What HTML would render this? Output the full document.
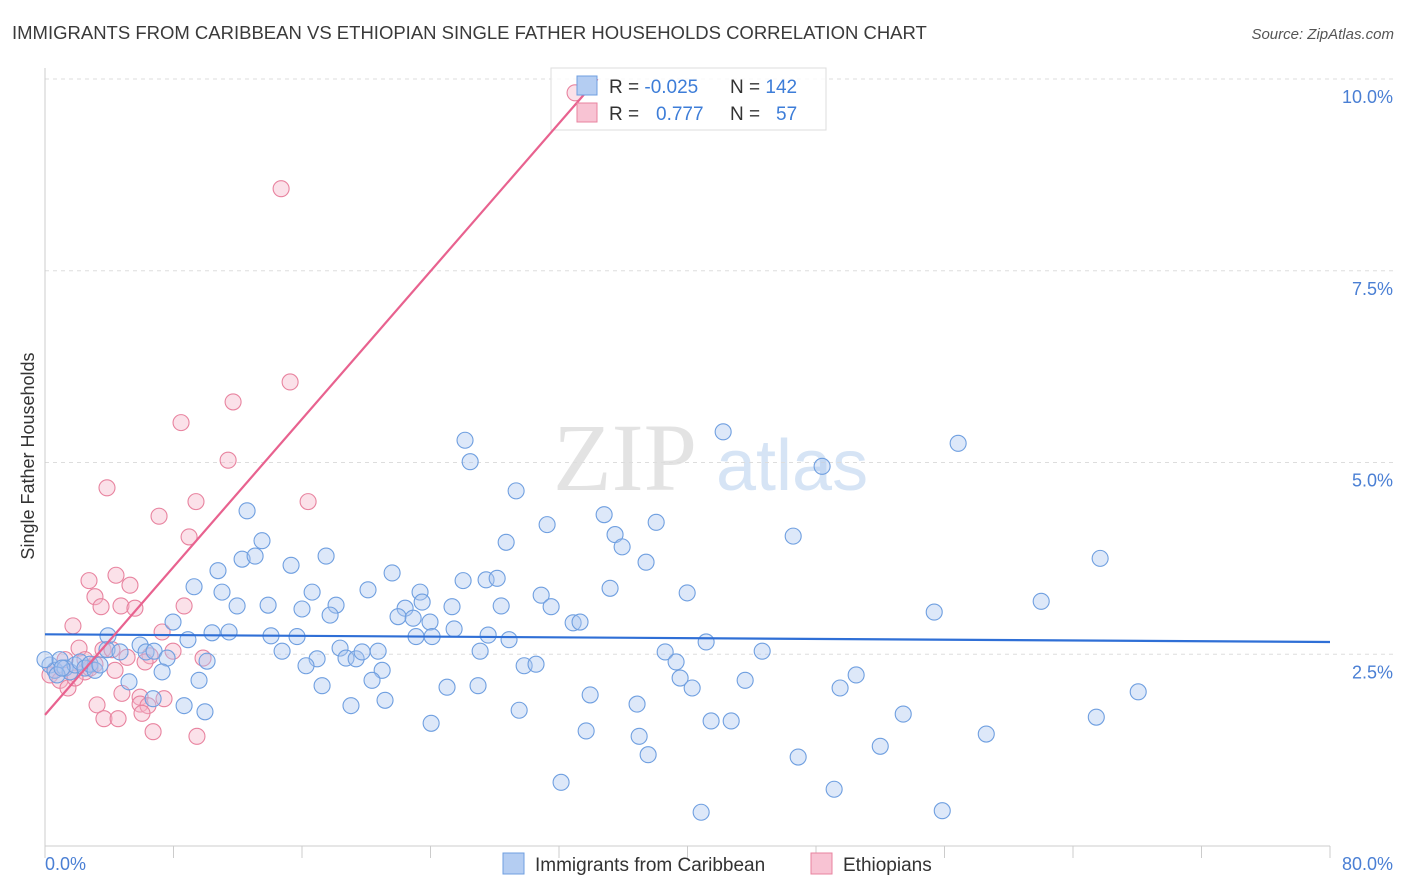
<!DOCTYPE html>
<html><head><meta charset="utf-8"><style>
body{margin:0;background:#fff;font-family:"Liberation Sans",sans-serif;}
svg{display:block}
</style></head><body>
<svg id="chart" width="1406" height="892">
<text x="12" y="39" font-size="18.5" fill="#3a3a3a">IMMIGRANTS FROM CARIBBEAN VS ETHIOPIAN SINGLE FATHER HOUSEHOLDS CORRELATION CHART</text>
<text x="1394" y="39" font-size="15" fill="#555" font-style="italic" text-anchor="end">Source: ZipAtlas.com</text>
<text transform="translate(34,456) rotate(-90)" font-size="18" fill="#333" text-anchor="middle">Single Father Households</text>
<g><text x="553" y="490" font-size="96" fill="#d8d8d8" font-family="Liberation Serif,serif" opacity="0.7">ZIP</text><text x="716" y="490" font-size="72" fill="#bcd3f0" opacity="0.6">atlas</text></g>
<g id="grid"></g><g id="axes"></g>
<g>
<rect x="551" y="68" width="275" height="62" fill="#fff" fill-opacity="0.85" stroke="#ddd"/>
</g>
<g id="pinkPts"></g><g id="bluePts"></g><g id="lines"></g>
<g>
<rect x="577" y="76" width="20" height="19" fill="#b4cdf2" stroke="#6f9fe0"/>
<rect x="577" y="103" width="20" height="19" fill="#f8c3d3" stroke="#e8839f"/>
<text x="609" y="93" font-size="19" fill="#333">R = <tspan fill="#3d7dd8">-0.025</tspan></text>
<text x="730" y="93" font-size="19" fill="#333">N = <tspan fill="#3d7dd8">142</tspan></text>
<text x="609" y="120" font-size="19" fill="#333">R = <tspan fill="#3d7dd8" x="656">0.777</tspan></text>
<text x="730" y="120" font-size="19" fill="#333">N = <tspan fill="#3d7dd8" x="776">57</tspan></text>
</g>
<g>
<rect x="503" y="853" width="21" height="21" fill="#b4cdf2" stroke="#6f9fe0"/>
<text x="535" y="871" font-size="19" fill="#333">Immigrants from Caribbean</text>
<rect x="811" y="853" width="21" height="21" fill="#f8c3d3" stroke="#e8839f"/>
<text x="843" y="871" font-size="19" fill="#333">Ethiopians</text>
</g>
</svg>
<script>
const xTickLabels=["0.0%","80.0%"];
const yTicks=[2.5,5,7.5,10];
const yTickLabels=["2.5%","5.0%","7.5%","10.0%"];
const blueX=[26.15,26.47,42.22,48.38,56.85,29.33,12.58,31.26,34.81,38.05,35.49,35.93,28.71,46.58,65.69,13.51,12.27,13.08,17.5,10.77,15.32,21.61,26.03,27.46,28.15,37.42,9.28,11.02,16.63,20.11,23.35,30.89,35.18,39.98,62.02,55.36,11.96,13.89,16.0,18.12,22.42,23.48,25.34,28.4,31.51,7.97,21.98,22.92,17.75,23.97,32.88,33.31,10.4,11.46,14.07,15.69,25.47,27.59,28.89,3.92,5.92,8.9,3.86,4.67,6.29,6.79,14.76,18.37,20.74,27.09,23.1,24.1,38.61,41.16,44.65,39.29,7.6,10.09,16.94,18.74,19.37,19.74,29.83,30.57,16.25,20.99,7.29,5.23,9.59,17.25,20.36,25.03,26.96,39.54,40.29,43.59,49.5,50.5,68.06,6.73,8.66,9.96,19.05,21.17,29.52,33.94,36.86,41.47,42.72,53.43,65.45,24.04,33.69,36.99,58.6,52.0,37.55,46.89,32.13,49.13,40.85,55.86,0.31,0.62,0.93,1.25,1.56,1.87,2.18,2.49,2.8,3.11,0.75,1.06,3.42,0.0];
const blueY=[5.29,5.01,5.4,4.95,5.25,4.63,4.37,4.19,4.32,4.22,4.06,3.9,3.96,4.04,3.75,3.98,3.74,3.78,3.78,3.59,3.66,3.56,3.46,3.47,3.49,3.7,3.38,3.31,3.31,3.34,3.31,3.27,3.36,3.3,3.19,3.05,3.13,3.14,3.09,3.14,3.1,3.18,3.12,3.13,3.12,2.92,2.99,2.97,3.01,2.92,2.91,2.92,2.78,2.79,2.74,2.73,2.83,2.75,2.69,2.74,2.62,2.69,2.56,2.53,2.53,2.54,2.54,2.58,2.54,2.54,2.73,2.73,2.53,2.66,2.54,2.4,2.45,2.41,2.44,2.45,2.44,2.53,2.35,2.37,2.35,2.29,2.27,2.14,2.16,2.09,2.16,2.07,2.09,2.19,2.06,2.16,2.06,2.23,2.01,1.92,1.83,1.75,1.83,1.9,1.77,1.97,1.85,1.63,1.63,1.72,1.68,1.6,1.5,1.43,1.46,1.3,1.19,1.16,0.83,0.74,0.44,0.46,2.36,2.29,2.43,2.32,2.27,2.36,2.4,2.32,2.37,2.29,2.23,2.32,2.36,2.43];
const pinkX=[33.0,14.7,15.26,11.71,8.47,11.4,3.86,9.4,16.38,7.1,8.97,4.42,2.74,5.29,3.11,4.73,5.6,3.49,8.66,1.74,7.29,2.12,3.61,5.11,4.17,6.54,7.97,9.84,6.23,1.25,1.56,0.62,0.31,2.49,3.11,4.36,0.93,1.43,4.79,5.92,3.24,5.92,7.41,6.41,3.67,4.55,6.04,6.73,9.46,2.49,1.87,2.8];
const pinkY=[9.82,8.57,6.05,5.79,5.52,5.03,4.67,4.49,4.49,4.3,4.03,3.53,3.46,3.4,3.25,3.13,3.1,3.12,3.13,2.87,2.79,2.58,2.56,2.46,2.56,2.48,2.54,2.45,2.4,2.43,2.27,2.29,2.23,2.27,2.37,2.29,2.16,2.06,1.99,1.94,1.84,1.85,1.92,1.83,1.66,1.66,1.73,1.49,1.43,2.43,2.19,2.32];
const blueTrend=[2.76,2.66];
const pinkTrend=[1.71,0.241];
const X0=45,X1=1330,Y0=846,PPY=76.7;
const sx=v=>X0+(X1-X0)*v/80;
const sy=v=>Y0-v*PPY;
const NS="http://www.w3.org/2000/svg";
function mk(tag,attrs,parent){const e=document.createElementNS(NS,tag);for(const k in attrs)e.setAttribute(k,attrs[k]);parent.appendChild(e);return e;}
const grid=document.getElementById('grid'),axes=document.getElementById('axes');
yTicks.forEach((t,i)=>{
 const l=mk('line',{x1:X0,x2:1394,y1:sy(t),y2:sy(t),stroke:'#ddd','stroke-dasharray':'4,4'},grid);
 
 
 const tx=mk('text',{x:1393,y:sy(t)+24,'font-size':18,fill:'#4a7fd4','text-anchor':'end'},axes);
 tx.textContent=yTickLabels[i];
 
 
});
const al=mk('line',{x1:X0,x2:X0,y1:68,y2:Y0,stroke:'#ccc'},axes);


const bl=mk('line',{x1:X0,x2:X1,y1:Y0,y2:Y0,stroke:'#ccc'},axes);


for(let v=0;v<=80;v+=8){
 const t=mk('line',{x1:sx(v),x2:sx(v),y1:Y0,y2:Y0+12,stroke:'#ccc'},axes);
 
 
}
[[0,'start',X0],[1,'end',1393]].forEach(([i,a,x])=>{
 const t=mk('text',{x:x,y:870,'font-size':18,fill:'#4a7fd4','text-anchor':a},axes);
 t.textContent=xTickLabels[i];
 
 
});
function pts(xs,ys,g,fill,stroke,name){
 xs.forEach((x,i)=>{
  const c=mk('circle',{cx:sx(x),cy:sy(ys[i]),r:8,fill:fill,'fill-opacity':0.4,stroke:stroke,'stroke-width':1.1},g);
  
  
 });
}
pts(pinkX,pinkY,document.getElementById('pinkPts'),'#f5b3c8','#e8839f','ethiopians-point');
pts(blueX,blueY,document.getElementById('bluePts'),'#a9c5ef','#6f9fe0','caribbean-point');
const lines=document.getElementById('lines');
const b=mk('line',{x1:sx(0),y1:sy(blueTrend[0]),x2:sx(80),y2:sy(blueTrend[1]),stroke:'#2f6fd6','stroke-width':2.2},lines);


const xe=(10-pinkTrend[0])/pinkTrend[1];
const p=mk('line',{x1:sx(0),y1:sy(pinkTrend[0]),x2:sx(xe),y2:sy(10),stroke:'#e8628f','stroke-width':2.2},lines);


</script>
</body></html>
